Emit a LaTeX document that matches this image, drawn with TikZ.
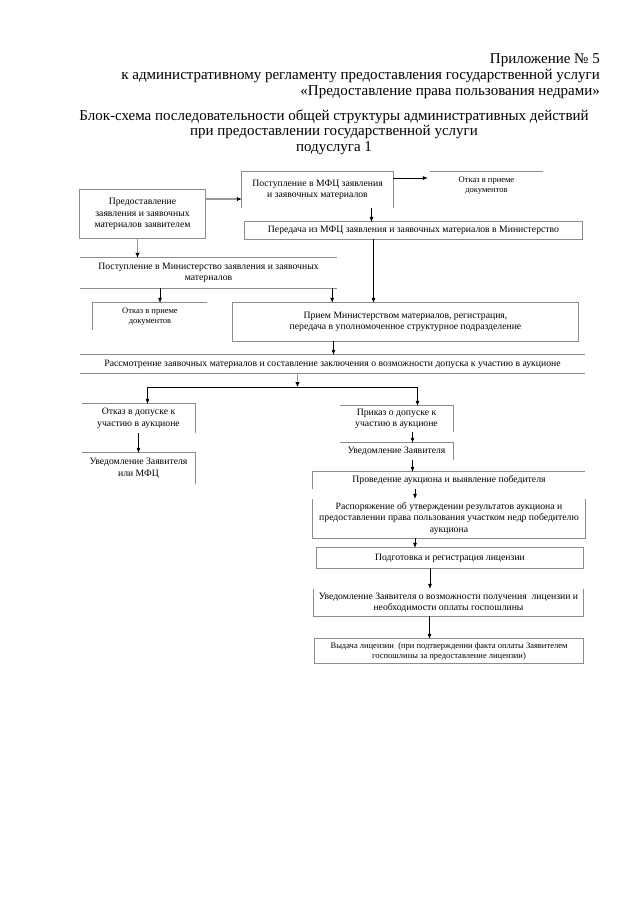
\documentclass[tikz,border=0pt]{standalone}
\usepackage{fontspec}
\setmainfont{Liberation Serif}
\usetikzlibrary{arrows.meta}

\begin{document}
\begin{tikzpicture}[x=1pt, y=-1pt,
  head/.style={inner sep=0pt, font=\fontsize{15}{17}\selectfont},
  box/.style={inner sep=0pt, align=center, font=\fontsize{9.7}{11.5}\selectfont},
  small/.style={font=\fontsize{8.5}{10}\selectfont},
  side/.style={draw=black!45, line width=0.7pt},
  arr/.style={draw=black, line width=0.6pt, -{Latex[length=5pt,width=4pt]}},
  garr/.style={draw=black!40, line width=1.4pt, -{Latex[length=5pt,width=4.5pt,color=black]}}]
\useasboundingbox (0,0) rectangle (640,905);

% heading
\node[head, anchor=east] (h1) at (600,60) {Приложение № 5};
\node[head, anchor=east] (h2) at (600,76) {к административному регламенту предоставления государственной услуги};
\node[head, anchor=east] (h3) at (600,92) {«Предоставление права пользования недрами»};
\node[head] (h4) at (334,117) {Блок-схема последовательности общей структуры административных действий};
\node[head] (h5) at (334,132) {при предоставлении государственной услуги};
\node[head] (h6) at (334,148) {подуслуга 1};

% boxes
\node[box, minimum width=125pt, minimum height=48pt] (pred) at (142.5,214) {Предоставление\\ заявления и заявочных\\ материалов заявителем};
\node[box, minimum width=151pt, minimum height=36pt] (mfc) at (317.5,190) {Поступление в МФЦ заявления\\ и заявочных материалов};
\node[box, small, minimum width=113pt, minimum height=28pt] (refA) at (486.5,186) {Отказ в приеме\\ документов};
\node[box, minimum width=337pt, minimum height=17pt] (transfer) at (413.5,230.5) {Передача из МФЦ заявления и заявочных материалов в Министерство};
\node[box, minimum width=257pt, minimum height=30pt] (postmin) at (208.5,273) {Поступление в Министерство заявления и заявочных\\ материалов};
\node[box, small, minimum width=114pt, minimum height=27pt] (refB) at (150,316.5) {Отказ в приеме\\ документов};
\node[box, minimum width=345pt, minimum height=38pt] (accept) at (405.5,322) {Прием Министерством материалов, регистрация,\\ передача в уполномоченное структурное подразделение};
\node[box, minimum width=505pt, minimum height=18pt] (review) at (332.5,364) {Рассмотрение заявочных материалов и составление заключения о возможности допуска к участию в аукционе};
\node[box, minimum width=113pt, minimum height=29pt] (deny) at (138.5,418.5) {Отказ в допуске к\\ участию в аукционе};
\node[box, minimum width=113pt, minimum height=31pt] (notA) at (138.5,468.5) {Уведомление Заявителя\\ или МФЦ};
\node[box, minimum width=113pt, minimum height=26pt] (admit) at (396.5,419) {Приказ о допуске к\\ участию в аукционе};
\node[box, minimum width=113pt, minimum height=17pt] (notB) at (396.5,451.5) {Уведомление Заявителя};
\node[box, minimum width=272pt, minimum height=17pt] (auction) at (449,480.5) {Проведение аукциона и выявление победителя};
\node[box, minimum width=272pt, minimum height=39pt] (decree) at (449,518.5) {Распоряжение об утверждении результатов аукциона и\\ предоставлении права пользования участком недр победителю\\ аукциона};
\node[box, minimum width=266pt, minimum height=20pt] (prep) at (450,558) {Подготовка и регистрация лицензии};
\node[box, minimum width=269pt, minimum height=27pt] (notC) at (448.5,602.5) {Уведомление Заявителя о возможности получения\ \ лицензии и\\ необходимости оплаты госпошлины};
\node[box, small, minimum width=268pt, minimum height=24pt] (issue) at (449,651) {Выдача лицензии\ \ (при подтверждении факта оплаты Заявителем\\ госпошлины за предоставление лицензии)};

% frames (only the sides that show)
\foreach \n in {pred,transfer,accept,prep,issue}
  \draw[side] (\n.north west) rectangle (\n.south east);
\draw[side] (mfc.south west) -- (mfc.north west) -- (mfc.north east) -- (mfc.south east);
\draw[side] (refA.north west) -- (refA.north east);
\draw[side] (postmin.north west) -- (postmin.north east) (postmin.south west) -- (postmin.south east);
\draw[side] (review.north west) -- (review.north east) (review.south west) -- (review.south east);
\draw[side] (refB.north east) -- (refB.north west) -- (refB.south west);
\foreach \n in {deny,notA,admit,notB}
  \draw[side] (\n.north west) -- (\n.north east) -- (\n.south east);
\draw[side] (auction.north east) -- (auction.north west) -- (auction.south west);
\foreach \n in {decree,notC}
  \draw[side] (\n.north west) -- (\n.south west) -- (\n.south east) -- (\n.north east);

% arrows
\coordinate (pe) at ([yshift=15pt]pred.east);
\draw[garr] (pe) -- (pe -| mfc.west);
\coordinate (me) at ([yshift=12pt]mfc.east);
\draw[arr] (me) -- ([xshift=-2pt]me -| refA.west);
\coordinate (m1) at ([xshift=54pt]mfc.south);
\draw[arr] (m1) -- (m1 |- transfer.north);
\coordinate (t1) at ([xshift=-40pt]transfer.south);
\draw[arr] (t1) -- (t1 |- accept.north);
\coordinate (p0) at ([xshift=-5pt]pred.south);
\draw[garr] (p0) -- (p0 |- postmin.north);
\coordinate (p1) at ([xshift=10pt]refB.north);
\draw[arr] (p1 |- postmin.south) -- (p1);
\coordinate (p2) at ([xshift=-5pt]postmin.south east);
\draw[arr] (p2) -- (p2 |- accept.north);
\coordinate (a1) at ([xshift=-72pt]accept.south);
\draw[arr] (a1) -- (a1 |- review.north);

% fork under the review box
\coordinate (fork) at ([xshift=-35pt,yshift=-14pt]review.south);
\draw[garr] (fork |- review.south) -- (fork);
\coordinate (d1) at ([xshift=9pt]deny.north);
\coordinate (k1) at ([xshift=21pt]admit.north);
\draw[line width=0.6pt] (d1 |- fork) -- (k1 |- fork);
\draw[arr] (d1 |- fork) -- (d1);
\draw[arr] (k1 |- fork) -- (k1);

\draw[arr] (deny.south) -- (notA.north);
\coordinate (k2) at ([xshift=16pt]admit.south);
\draw[arr] (k2) -- (k2 |- notB.north);
\coordinate (k3) at ([xshift=16pt]notB.south);
\draw[arr] (k3) -- (k3 |- auction.north);
\coordinate (c1) at ([xshift=-34pt]auction.south);
\draw[arr] (c1) -- (c1 |- decree.north);
\coordinate (c2) at ([xshift=-34pt]decree.south);
\draw[arr] (c2) -- (c2 |- prep.north);
\coordinate (c3) at ([xshift=-20pt]prep.south);
\draw[arr] (c3) -- (c3 |- notC.north);
\coordinate (c4) at ([xshift=-19pt]notC.south);
\draw[arr] (c4) -- (c4 |- issue.north);
\end{tikzpicture}
\end{document}
